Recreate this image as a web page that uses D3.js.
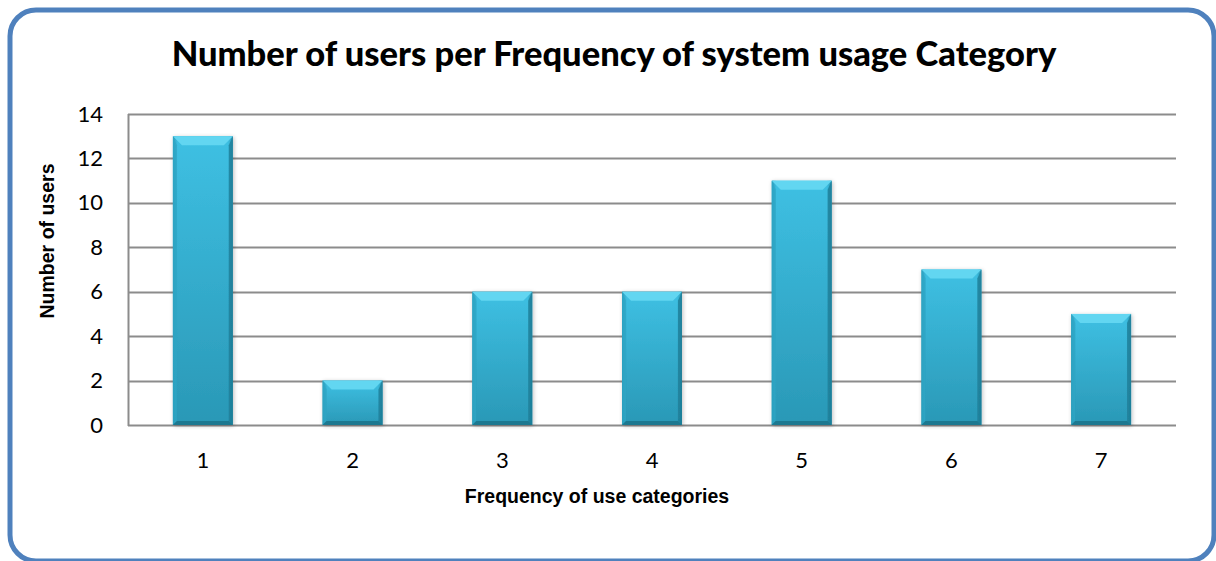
<!DOCTYPE html>
<html>
<head>
<meta charset="utf-8">
<script src="https://cdn.jsdelivr.net/npm/d3@7"></script>
<style>
  html, body { margin: 0; padding: 0; background: #fff; }
  svg { display: block; }
</style>
</head>
<body>
<svg id="chart" width="1216" height="561"></svg>
<script>
// Chart data
const categories = ["1", "2", "3", "4", "5", "6", "7"];
const users = [13, 2, 6, 6, 11, 7, 5];
const yTicks = [0, 2, 4, 6, 8, 10, 12, 14];

const titleText = "Number of users per Frequency of system usage Category";
const xTitleText = "Frequency of use categories";
const yTitleText = "Number of users";

const svg = d3.select("#chart");
const plot = { left: 128, top: 114, right: 1176, bottom: 425 };

const x = d3.scaleBand().domain(categories).range([plot.left, plot.right]).paddingInner(0.6).paddingOuter(0.3);
const y = d3.scaleLinear().domain([0, 14]).range([plot.bottom, plot.top]);

const defs = svg.append("defs");
const g1 = defs.append("linearGradient").attr("id", "barFill").attr("x1", 0).attr("y1", 0).attr("x2", 0).attr("y2", 1);
g1.append("stop").attr("offset", "0%").attr("stop-color", "#3ec0e3");
g1.append("stop").attr("offset", "100%").attr("stop-color", "#2a98b6");
const g2 = defs.append("linearGradient").attr("id", "barSide").attr("x1", 0).attr("y1", 0).attr("x2", 1).attr("y2", 0);
g2.append("stop").attr("offset", "0%").attr("stop-color", "#1f7f98").attr("stop-opacity", 0.55);
g2.append("stop").attr("offset", "8%").attr("stop-color", "#1f7f98").attr("stop-opacity", 0);
g2.append("stop").attr("offset", "92%").attr("stop-color", "#1f7f98").attr("stop-opacity", 0);
g2.append("stop").attr("offset", "100%").attr("stop-color", "#1a6f86").attr("stop-opacity", 0.6);
const shadow = defs.append("filter").attr("id", "shadow").attr("x", "-20%").attr("y", "-10%").attr("width", "140%").attr("height", "120%");
shadow.append("feGaussianBlur").attr("in", "SourceAlpha").attr("stdDeviation", 2);
shadow.append("feOffset").attr("dx", 1).attr("dy", 1).attr("result", "b");
shadow.append("feComponentTransfer").append("feFuncA").attr("type", "linear").attr("slope", 0.25);
const m = shadow.append("feMerge");
m.append("feMergeNode");
m.append("feMergeNode").attr("in", "SourceGraphic");

// Outer rounded frame
svg.append("rect")
  .attr("x", 10).attr("y", 10).attr("width", 1204).attr("height", 551)
  .attr("rx", 26).attr("ry", 26)
  .attr("fill", "#fff").attr("stroke", "#4f81bd").attr("stroke-width", 5);

// Title
svg.append("text")
  .attr("x", 614).attr("y", 66)
  .attr("text-anchor", "middle")
  .attr("font-family", "Lato, 'Open Sans', sans-serif")
  .attr("font-weight", "900").attr("font-size", 34.5)
  .attr("fill", "#000")
  .text(titleText);

// Gridlines
svg.append("g").selectAll("line").data(yTicks).join("line")
  .attr("x1", plot.left).attr("x2", plot.right)
  .attr("y1", d => Math.round(y(d)) + 0.5).attr("y2", d => Math.round(y(d)) + 0.5)
  .attr("stroke", "#8c8c8c").attr("stroke-width", 2);

// Left axis line
svg.append("line")
  .attr("x1", plot.left + 0.5).attr("x2", plot.left + 0.5)
  .attr("y1", plot.top).attr("y2", plot.bottom + 1)
  .attr("stroke", "#8c8c8c").attr("stroke-width", 2);

// Y tick labels
const yAxis = d3.axisLeft(y).tickValues(yTicks).tickSize(0).tickPadding(25);
const ya = svg.append("g").attr("transform", `translate(${plot.left},0)`).call(yAxis);
ya.select(".domain").remove();
ya.selectAll("text")
  .attr("font-family", "Lato, 'Open Sans', sans-serif")
  .attr("font-size", 22).attr("fill", "#000");

// X tick labels
const xAxis = d3.axisBottom(x).tickSize(0).tickPadding(27);
const xa = svg.append("g").attr("transform", `translate(0,${plot.bottom})`).call(xAxis);
xa.select(".domain").remove();
xa.selectAll("text")
  .attr("font-family", "Lato, 'Open Sans', sans-serif")
  .attr("font-size", 22).attr("fill", "#000");

// Bars with bevelled edges
const bars = svg.append("g").selectAll("g").data(categories.map((c, i) => ({ c, v: users[i] }))).join("g")
  .attr("filter", "url(#shadow)");
bars.append("rect")
  .attr("x", d => x(d.c)).attr("y", d => y(d.v))
  .attr("width", x.bandwidth()).attr("height", d => y(0) - y(d.v))
  .attr("fill", "url(#barFill)");
bars.append("rect")
  .attr("x", d => x(d.c)).attr("y", d => y(d.v))
  .attr("width", x.bandwidth()).attr("height", d => y(0) - y(d.v))
  .attr("fill", "url(#barSide)");
const bev = 9;
// top bevel
bars.append("path")
  .attr("d", d => {
    const x0 = x(d.c), x1 = x0 + x.bandwidth(), y0 = y(d.v);
    return `M${x0},${y0}L${x1},${y0}L${x1 - bev},${y0 + bev}L${x0 + bev},${y0 + bev}Z`;
  })
  .attr("fill", "#62d6f1");
// left bevel
bars.append("path")
  .attr("d", d => {
    const x0 = x(d.c), y0 = y(d.v), yb = y(0);
    const b = Math.min(bev, (yb - y0) / 2);
    return `M${x0},${y0}L${x0 + 4},${y0 + b}L${x0 + 4},${yb - 4}L${x0},${yb}Z`;
  })
  .attr("fill", "#2ea6c6").attr("opacity", 0.8);
// right bevel
bars.append("path")
  .attr("d", d => {
    const x1 = x(d.c) + x.bandwidth(), y0 = y(d.v), yb = y(0);
    const b = Math.min(bev, (yb - y0) / 2);
    return `M${x1},${y0}L${x1 - 4},${y0 + b}L${x1 - 4},${yb - 4}L${x1},${yb}Z`;
  })
  .attr("fill", "#1e7e98").attr("opacity", 0.8);
// bottom edge
bars.append("path")
  .attr("d", d => {
    const x0 = x(d.c), x1 = x0 + x.bandwidth(), yb = y(0);
    return `M${x0},${yb}L${x0 + 4},${yb - 4}L${x1 - 4},${yb - 4}L${x1},${yb}Z`;
  })
  .attr("fill", "#1c7890");

// Axis titles
svg.append("text")
  .attr("x", 597).attr("y", 503)
  .attr("text-anchor", "middle")
  .attr("font-family", "'Liberation Sans', Arial, sans-serif")
  .attr("font-weight", "bold").attr("font-size", 19.5)
  .text(xTitleText);

svg.append("text")
  .attr("transform", "translate(54,241) rotate(-90)")
  .attr("text-anchor", "middle")
  .attr("font-family", "'Liberation Sans', Arial, sans-serif")
  .attr("font-weight", "bold").attr("font-size", 19.5)
  .text(yTitleText);
</script>
</body>
</html>
